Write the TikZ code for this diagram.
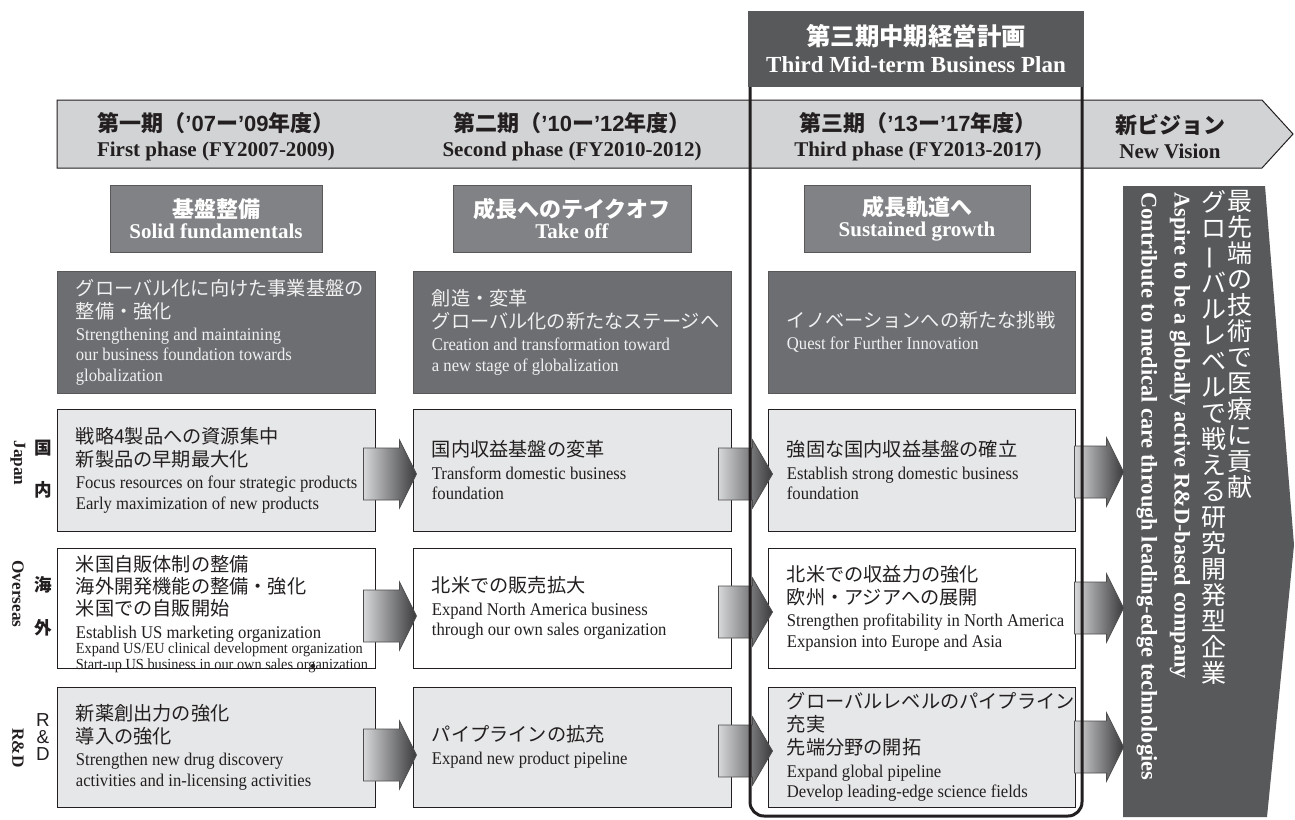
\documentclass[tikz,border=0pt]{standalone}
\usepackage{fontspec}
\usepackage{graphicx}
\setmainfont{Liberation Serif}
\newfontfamily\bodyen[FakeStretch=0.93]{Liberation Serif}
\newfontfamily\jp{Noto Sans CJK JP}
\newfontfamily\sns{Liberation Sans}
\usetikzlibrary{calc}
\definecolor{ink}{HTML}{231F20}
\definecolor{bandc}{HTML}{D1D3D4}
\definecolor{lgray}{HTML}{E6E7E8}
\definecolor{hgray}{HTML}{808285}
\definecolor{mgray}{HTML}{6D6E71}
\definecolor{dgray}{HTML}{58595B}
\definecolor{mtext}{HTML}{F1F1F2}
\definecolor{arl}{HTML}{D6D7D9}
\definecolor{ard}{HTML}{3A3A3C}
\setlength{\parindent}{0pt}
\newcommand\J[1]{{\jp\fontsize{9.6}{11.5}\selectfont #1\par}}
\newcommand\Js[1]{{\jp\fontsize{9.6}{11}\selectfont #1\par}}
\newcommand\E[1]{{\bodyen\fontsize{8.95}{10.2}\selectfont\vspace{1pt}#1\par}}
\newcommand\jt[1]{{\jp\bfseries\fontsize{11}{12.5}\selectfont #1}}
\newcommand\abox[9]{%
  \pgfmathsetmacro\bw{(#5-#3)*0.5}%
  \pgfmathsetmacro\bh{(#6-#4)*0.5}%
  \node[#2, minimum width=\bw pt, minimum height=\bh pt] (#1) at ({(#3+#5)/2},{(#4+#6)/2}) {};%
  \node[btxt, text=#7, #8] (#1t) at ([xshift=9.5pt]#1.west) {#9};}
\newcommand\barrow[6]{%
  \path (#2.west |- #1.east) coordinate (bB) (#1.east) coordinate (bA);%
  \draw[arr] ($(bA)+(#3,{#6-26})$) -- ($(bB)+(#4,{#6-26})$) -- ($(bB)+(#4,{#6-34})$) -- ($(bB)+(#5,#6)$) -- ($(bB)+(#4,{#6+34})$) -- ($(bB)+(#4,{#6+26})$) -- ($(bA)+(#3,{#6+26})$) -- cycle;}
\begin{document}
\begin{tikzpicture}[x=0.5pt,y=-0.5pt,
  lbox/.style={draw=ink,line width=0.5pt,fill=lgray,inner sep=0pt},
  wbox/.style={lbox,fill=white},
  mbox/.style={draw=ink!75,line width=0.5pt,fill=mgray,inner sep=0pt},
  hbox/.style={draw=ink!75,line width=0.5pt,fill=hgray,text=white,align=center,inner sep=0pt,font=\bfseries\fontsize{10.5}{10.5}\selectfont},
  btxt/.style={anchor=west,inner sep=0pt,align=flush left,text width=150pt},
  arr/.style={draw=ink!80,line width=0.4pt,left color=arl,right color=ard},
  tl/.style={align=center,inner sep=0pt,text=ink,font=\bfseries\fontsize{10.5}{12.5}\selectfont},
  lj/.style={inner sep=0pt,text=ink,font=\jp\bfseries\fontsize{8.8}{10}\selectfont},
  le/.style={inner sep=0pt,text=ink,rotate=-90,font=\bfseries\fontsize{8.6}{10}\selectfont},
  ls/.style={inner sep=0pt,text=ink,align=center,font=\sns\fontsize{9.4}{8.3}\selectfont},
  vjp/.style={anchor=north,align=center,inner sep=0pt,text=white,font=\jp\fontsize{12.5}{13}\selectfont},
  ven/.style={anchor=west,rotate=-90,inner sep=0pt,text=white,font=\bfseries\fontsize{11.2}{12}\selectfont}]
\fill[white] (0,0) rectangle (1295,819);
\useasboundingbox (0,0) rectangle (1295,819);
% timeline band
\draw[fill=bandc,draw=ink,line width=0.5pt] (57,100) -- (1262,100) -- (1293,134) -- (1262,168) -- (57,168) -- cycle;
\node[tl] (p1) at (216,137) {\jt{第一期（{\sns ’07}ー{\sns ’09}年度）}\\First phase (FY2007-2009)};
\node[tl] (p2) at (572,137) {\jt{第二期（{\sns ’10}ー{\sns ’12}年度）}\\Second phase (FY2010-2012)};
\node[tl] (p3) at (918,137) {\jt{第三期（{\sns ’13}ー{\sns ’17}年度）}\\Third phase (FY2013-2017)};
\node[tl] (p4) at (1170,137) {\jt{新ビジョン}\\New Vision};
% banner
\node[fill=dgray,minimum width=168pt,minimum height=38pt,inner sep=0pt,text=white,align=center,font=\bfseries\fontsize{11.5}{13.5}\selectfont] (ban) at (916,49) {{\jp\bfseries\fontsize{12.2}{13.5}\selectfont 第三期中期経営計画}\\Third Mid-term Business Plan};
% header boxes
\node[hbox,minimum width=106pt,minimum height=33.5pt] (hb1) at (216,218.5) {\jt{基盤整備}\\Solid fundamentals};
\node[hbox,minimum width=119pt,minimum height=33.5pt] (hb2) at (572,218.5) {\jt{成長へのテイクオフ}\\Take off};
\node[hbox,minimum width=113pt,minimum height=33.5pt] (hb3) at (917,218.5) {\jt{成長軌道へ}\\Sustained growth};
% mission row
\abox{m1}{mbox}{57}{271}{375}{393}{mtext}{}{\J{グローバル化に向けた事業基盤の\\整備・強化}\E{Strengthening and maintaining\\our business foundation towards\\globalization}}
\abox{m2}{mbox}{413}{271}{731}{393}{mtext}{}{\J{創造・変革\\グローバル化の新たなステージへ}\E{Creation and transformation toward\\a new stage of globalization}}
\abox{m3}{mbox}{768}{271}{1075}{393}{mtext}{}{\J{イノベーションへの新たな挑戦}\E{Quest for Further Innovation}}
% Japan row
\abox{j1}{lbox}{57}{409}{375}{531}{ink}{}{\J{戦略4製品への資源集中\\新製品の早期最大化}\E{Focus resources on four strategic products\\Early maximization of new products}}
\abox{j2}{lbox}{413}{409}{731}{531}{ink}{}{\J{国内収益基盤の変革}\E{Transform domestic business\\foundation}}
\abox{j3}{lbox}{768}{409}{1075}{531}{ink}{}{\J{強固な国内収益基盤の確立}\E{Establish strong domestic business\\foundation}}
% Overseas row
\abox{o1}{wbox}{57}{548}{375}{668}{ink}{yshift=-3pt}{\Js{米国自販体制の整備\\海外開発機能の整備・強化\\米国での自販開始}\E{Establish US marketing organization}{\bodyen\fontsize{7.7}{7.7}\selectfont Expand US/EU clinical development organization\\Start-up US business in our own sales organization\par}}
\abox{o2}{wbox}{413}{548}{731}{668}{ink}{}{\J{北米での販売拡大}\E{Expand North America business\\through our own sales organization}}
\abox{o3}{wbox}{768}{548}{1075}{668}{ink}{}{\J{北米での収益力の強化\\欧州・アジアへの展開}\E{Strengthen profitability in North America\\Expansion into Europe and Asia}}
% R&D row
\abox{r1}{lbox}{57}{687}{375}{807}{ink}{}{\J{新薬創出力の強化\\導入の強化}\E{Strengthen new drug discovery\\activities and in-licensing activities}}
\abox{r2}{lbox}{413}{687}{731}{807}{ink}{}{\J{パイプラインの拡充}\E{Expand new product pipeline}}
\abox{r3}{lbox}{768}{687}{1075}{807}{ink}{}{\J{グローバルレベルのパイプライン\\充実\\先端分野の開拓}\E{Expand global pipeline\\Develop leading-edge science fields}}
% vision
\node[inner sep=0pt,minimum width=85.5pt,minimum height=315.5pt] (vis) at (1208.5,501.5) {};
\fill[dgray] (1123,186) -- (1265,186) -- (1294,545) -- (1267,817) -- (1123,817) -- cycle;
\node[vjp] (v1) at (1240,190) {最\\先\\端\\の\\技\\術\\で\\医\\療\\に\\貢\\献};
\node[vjp] (v2) at (1214,190) {グ\\ロ\\\rotatebox[origin=c]{90}{ー}\\バ\\ル\\レ\\ベ\\ル\\で\\戦\\え\\る\\研\\究\\開\\発\\型\\企\\業};
\node[ven] (v3) at (1180,192) {Aspire to be a globally active R\&D-based company};
\node[ven] (v4) at (1147,192) {Contribute to medical care through leading-edge technologies};
% arrows
\barrow{j1}{j2}{-12}{-13}{4}{4}
\barrow{o1}{o2}{-12}{-13}{4}{8}
\barrow{r1}{r2}{-12}{-13}{4}{8}
\barrow{j2}{j3}{-13}{-15}{5}{4}
\barrow{o2}{o3}{-13}{-15}{5}{4}
\barrow{r2}{r3}{-13}{-15}{5}{4}
\barrow{j3}{vis}{-1}{-16}{1}{2}
\barrow{o3}{vis}{-1}{-16}{1}{0}
\barrow{r3}{vis}{-1}{-16}{1}{0}
% frame
\draw[ink,line width=1.5pt,rounded corners=7pt] (750,87) -- (750,816) -- (1082,816) -- (1082,87);
% left labels
\node[lj] (kuni) at (43,448) {国};
\node[lj] (nai) at (43,490) {内};
\node[le] (lab-j) at (18,463) {Japan};
\node[lj] (umi) at (43,585) {海};
\node[lj] (soto) at (43,628) {外};
\node[le] (lab-o) at (18,594) {Overseas};
\node[ls] (rdj) at (43,737) {R\\\&\\D};
\node[le] (lab-r) at (18,748) {R\&D};
% stray dot
\fill[ink] (313,666) circle (2.2);
\end{tikzpicture}
\end{document}
